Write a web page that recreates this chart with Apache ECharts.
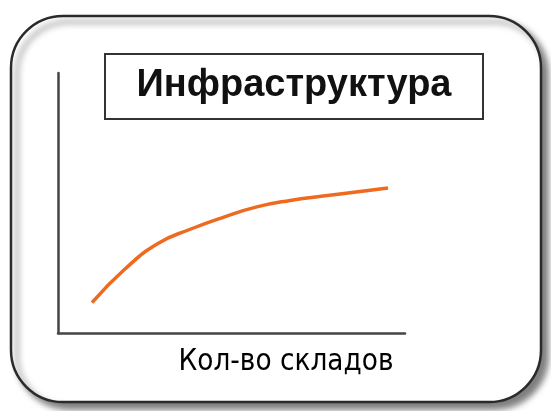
<!DOCTYPE html>
<html>
<head>
<meta charset="utf-8">
<script src="https://cdn.jsdelivr.net/npm/echarts@6/dist/echarts.min.js"></script>
<style>
  html, body { margin: 0; padding: 0; background: #fff; }
  #chart { width: 551px; height: 411px; }
</style>
</head>
<body>
<div id="chart"></div>
<script>
// curve (no tick labels in the original, 0..10 both ways)
const xValues = [0.98, 1.93, 2.88, 3.83, 4.78, 5.73, 6.69, 7.64, 8.59, 9.51];
const yValues = [1.17, 2.46, 3.44, 4.0, 4.46, 4.85, 5.1, 5.27, 5.42, 5.58];
const titleText = 'Инфраструктура';
const xAxisName = 'Кол-во складов';

const points = xValues.map((x, i) => [x, yValues[i]]);

const chart = echarts.init(document.getElementById('chart'));
const option = {
  backgroundColor: '#fff',
  animation: false,
  grid: { left: 58, right: 146, top: 73, bottom: 78 },
  xAxis: {
    type: 'value',
    min: 0,
    max: 10,
    axisLine: { lineStyle: { color: '#444', width: 2.5 } },
    axisTick: { show: false },
    axisLabel: { show: false },
    splitLine: { show: false },
  },
  yAxis: {
    type: 'value',
    min: 0,
    max: 10,
    axisLine: { show: true, lineStyle: { color: '#444', width: 2.5 } },
    axisTick: { show: false },
    axisLabel: { show: false },
    splitLine: { show: false },
  },
  graphic: [
    {
      type: 'rect',
      z: -10,
      shape: { x: 11, y: 16, width: 530, height: 386, r: 52 },
      style: {
        fill: '#fff',
        stroke: '#2a2a2a',
        lineWidth: 2.5,
        shadowColor: 'rgba(0,0,0,0.5)',
        shadowBlur: 6,
        shadowOffsetX: 6,
        shadowOffsetY: 6,
      },
    },
    {
      type: 'rect',
      z: 10,
      shape: { x: 105, y: 54, width: 378, height: 65 },
      style: { fill: '#fff', stroke: '#333', lineWidth: 2 },
    },
    {
      type: 'text',
      z: 11,
      x: 294,
      y: 86,
      style: {
        text: titleText,
        font: 'bold 38px "Liberation Sans", Arial, sans-serif',
        fill: '#111',
        align: 'center',
        verticalAlign: 'middle',
      },
    },
    {
      type: 'text',
      z: 11,
      x: 286,
      y: 362,
      scaleX: 0.88,
      style: {
        text: xAxisName,
        font: '30px "DejaVu Sans", sans-serif',
        fill: '#000',
        align: 'center',
        verticalAlign: 'middle',
      },
    },
  ],
  series: [
    {
      type: 'line',
      data: points,
      smooth: 0.5,
      showSymbol: false,
      lineStyle: { color: '#EE6A1E', width: 3.5 },
    },
  ],
};
chart.setOption(option);
</script>
</body>
</html>
